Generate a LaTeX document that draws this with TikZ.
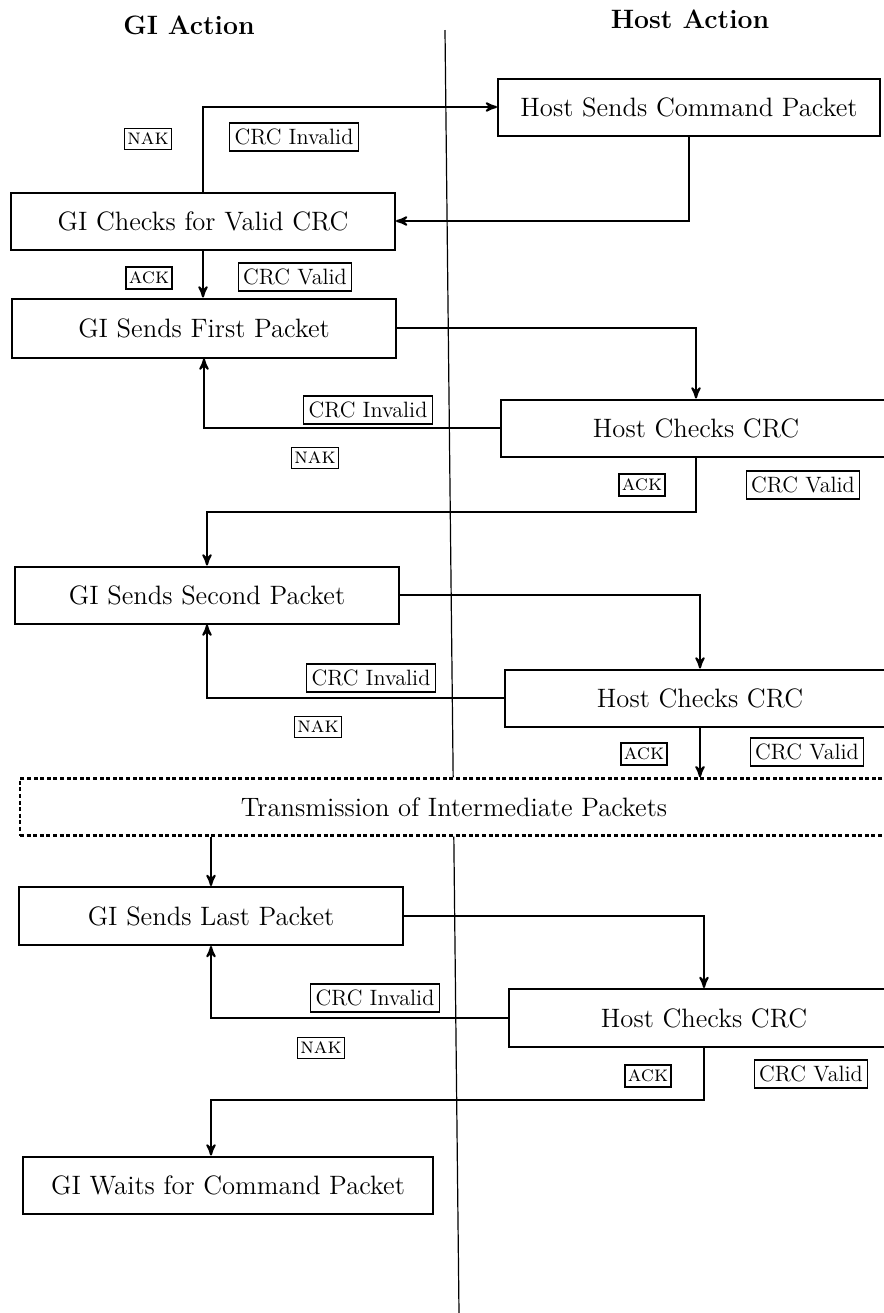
\documentclass[tikz,border=0pt]{standalone}
\usetikzlibrary{arrows,calc}

\begin{document}
\begin{tikzpicture}[x=0.5pt,y=-0.5pt,>=stealth',
    stage/.style={draw,line width=1pt,minimum height=28.5pt,inner sep=0pt,
        font=\fontsize{13.3}{16}\selectfont},
    gibox/.style={stage,minimum width=192pt},
    hostbox/.style={stage,minimum width=195pt},
    crc/.style={draw,line width=0.7pt,inner xsep=2.5pt,inner ysep=3pt,
        font=\fontsize{11.1}{13}\selectfont},
    reply/.style={draw,line width=0.7pt,inner xsep=1.5pt,inner ysep=2.4pt,
        font=\fontsize{11.1}{13}\selectfont\scshape},
    flow/.style={->,line width=1pt},
    lane/.style={font=\fontsize{13.3}{16}\selectfont\bfseries}]
    \useasboundingbox (0,0) rectangle (884,1313);

    % column heads and divider ends
    \node[lane] (gihead) at (189,25) {GI Action};
    \node[lane] (hosthead) at (690,19) {Host Action};
    \coordinate (divtop) at (445,30);
    \coordinate (divbot) at (459,1313);

    % command packet handshake
    \node[stage,minimum width=191pt] (hostcmd) at (689,107) {Host Sends Command Packet};
    \node[gibox] (gichk) at (203,221) {GI Checks for Valid CRC};
    \node[reply] (nak0) at (148,139) {nak};
    \node[crc] (bad0) at (294,137) {CRC Invalid};
    \node[reply] (ack0) at (149,278) {ack};
    \node[crc] (good0) at (295,277) {CRC Valid};

    % first packet
    \node[gibox,minimum height=29.5pt] (first) at (204,328) {GI Sends First Packet};
    \node[hostbox] (hc1) at (696,428) {Host Checks CRC};
    \node[crc] (bad1) at (368,410) {CRC Invalid};
    \node[reply] (nak1) at (315,458) {nak};
    \node[reply] (ack1) at (642,485) {ack};
    \node[crc] (good1) at (803,485) {CRC Valid};

    % second packet
    \node[gibox] (second) at (207,595) {GI Sends Second Packet};
    \node[hostbox] (hc2) at (700,698) {Host Checks CRC};
    \node[crc] (bad2) at (371,678) {CRC Invalid};
    \node[reply] (nak2) at (318,727) {nak};
    \node[reply] (ack2) at (644,754) {ack};
    \node[crc] (good2) at (807,752) {CRC Valid};

    \node[stage,minimum width=434pt,line width=1.2pt,dash pattern=on 2pt off 1.3pt,
        fill=white] (trans) at (454,807) {Transmission of Intermediate Packets};

    % last packet
    \node[gibox,minimum height=29pt] (last) at (211,916) {GI Sends Last Packet};
    \node[hostbox,minimum height=29pt] (hc3) at (704,1018) {Host Checks CRC};
    \node[crc] (bad3) at (375,998) {CRC Invalid};
    \node[reply] (nak3) at (321,1048) {nak};
    \node[reply] (ack3) at (648,1076) {ack};
    \node[crc] (good3) at (811,1074) {CRC Valid};

    \node[stage,minimum width=205pt] (waits) at (228,1185) {GI Waits for Command Packet};

    % divider, broken by the dashed box
    \draw[line width=0.6pt] (divtop) -- ($(divtop)!(trans.north)!(divbot)$);
    \draw[line width=0.6pt] ($(divtop)!(trans.south)!(divbot)$) -- (divbot);

    \draw[flow] (gichk.north) |- (hostcmd.west);
    \draw[flow] (hostcmd.south) |- (gichk.east);
    \draw[flow] (gichk.south) -- (gichk.south |- first.north);

    \draw[flow] (first.east) -| (hc1.north);
    \draw[flow] (hc1.west) -| (first.south);
    \draw[flow] (hc1.south) -- ++(0,54) -| (second.north);

    \draw[flow] (second.east) -| (hc2.north);
    \draw[flow] (hc2.west) -| (second.south);
    \draw[flow] (hc2.south) -- (hc2.south |- trans.north);
    \draw[flow] (last.north |- trans.south) -- (last.north);

    \draw[flow] (last.east) -| (hc3.north);
    \draw[flow] (hc3.west) -| (last.south);
    \draw[flow] (hc3.south) -- ++(0,52) -| (waits.north -| last.south);
\end{tikzpicture}
\end{document}
